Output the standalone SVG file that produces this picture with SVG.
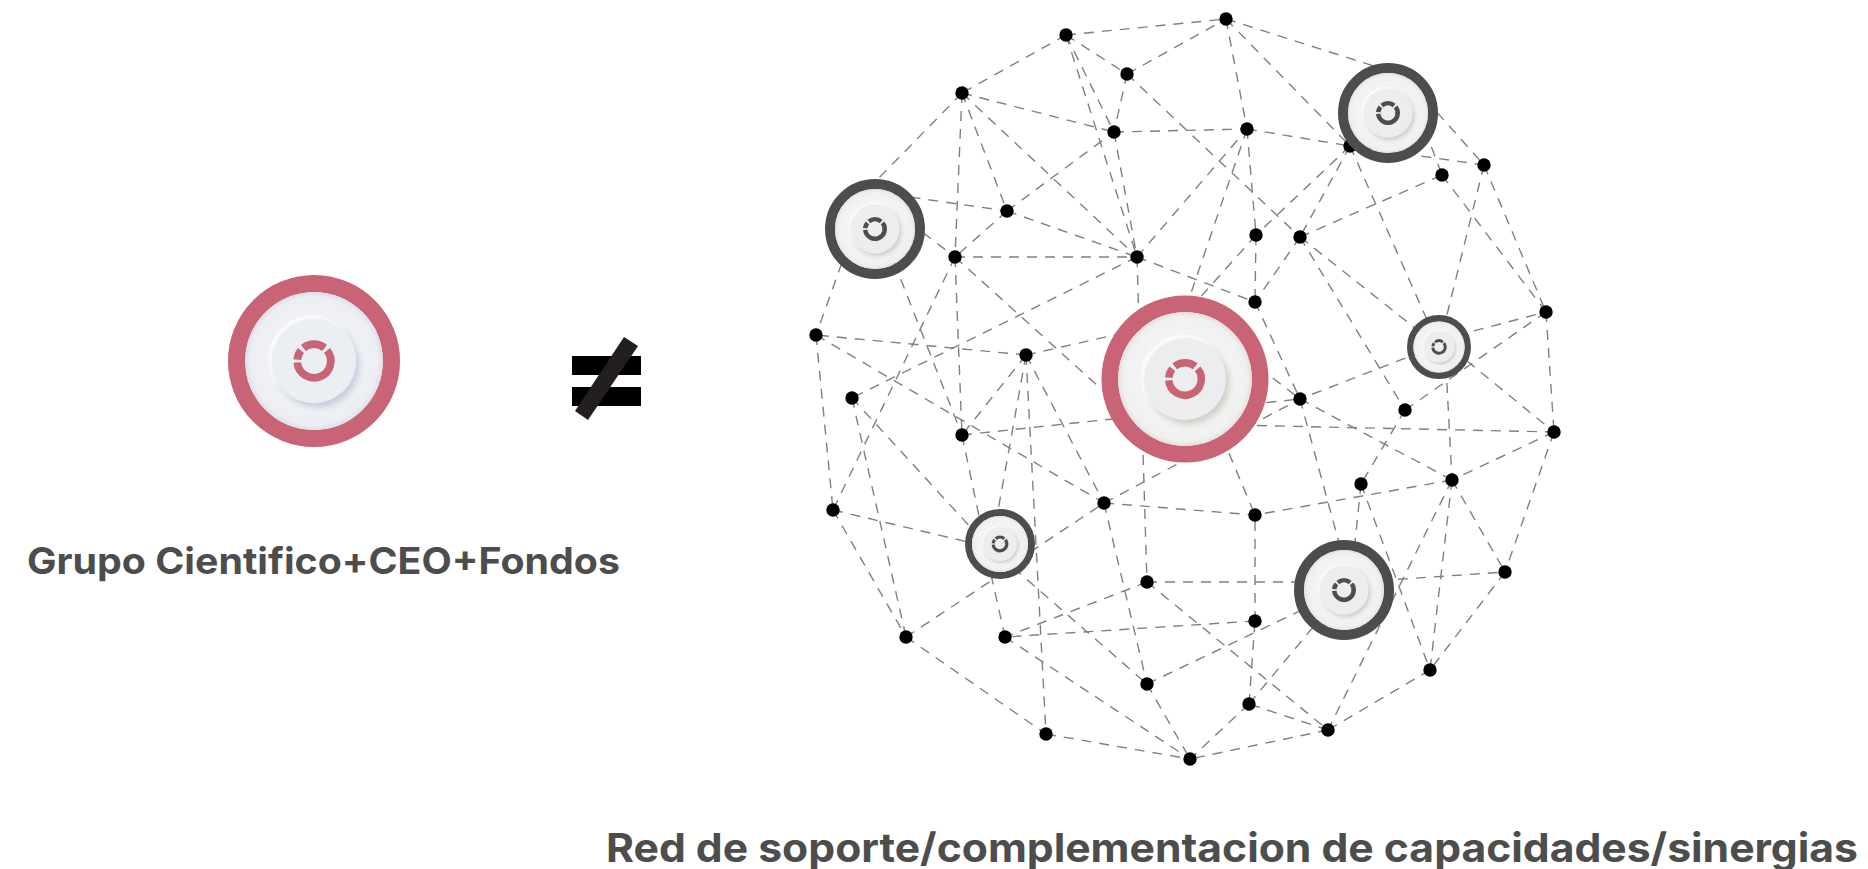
<svg xmlns="http://www.w3.org/2000/svg" width="1868" height="869" viewBox="0 0 1868 869">
<style>
.e line{stroke:#808080;stroke-width:1.4;stroke-dasharray:10 8;fill:none}
.d{fill:#000}
.t{font-family:Inter,"Liberation Sans",sans-serif;font-weight:700;fill:#4d4d4d}
.ring-p{fill:none;stroke:#c96376;stroke-width:20}
.ring-g{fill:none;stroke:#4d4d4d;stroke-width:20}
.ic-p{fill:none;stroke:#c96376;stroke-width:9}
.ic-g{fill:none;stroke:#4d4d4d;stroke-width:9}
</style>
<defs>
<radialGradient id="fw" r="50%"><stop offset="0.72" stop-color="#f2f3f3"/><stop offset="0.93" stop-color="#f0f0f0"/><stop offset="1" stop-color="#e3e1de"/></radialGradient>
<radialGradient id="fb" r="50%"><stop offset="0.72" stop-color="#eff1f5"/><stop offset="0.93" stop-color="#eceef3"/><stop offset="1" stop-color="#dcdfe9"/></radialGradient>
<filter id="sw" x="-40%" y="-40%" width="180%" height="180%"><feDropShadow dx="4" dy="5" stdDeviation="4" flood-color="#c9c2b8" flood-opacity="0.8"/></filter>
<filter id="sb" x="-40%" y="-40%" width="180%" height="180%"><feDropShadow dx="4" dy="5" stdDeviation="4" flood-color="#c3c7da" flood-opacity="0.9"/></filter>
<g id="glyph">
<path d="M-19.43 1.7A19.5 19.5 0 1 0 15.15 -12.27"/>
<path d="M12.27 -15.15A19.5 19.5 0 0 0 -12.27 -15.15"/>
<path d="M-15.15 -12.27A19.5 19.5 0 0 0 -19.43 -1.7"/>
</g>
<g id="pw"><circle r="90" class="ring-p"/><circle r="80" fill="url(#fw)"/><circle cx="-2" cy="-2" r="51" fill="#fbfbfb"/><circle r="49" fill="#ecedee" filter="url(#sw)"/><use href="#glyph" class="ic-p"/></g>
<g id="pb"><circle r="90" class="ring-p"/><circle r="80" fill="url(#fb)"/><circle cx="-2" cy="-2" r="51" fill="#f9fafc"/><circle r="49" fill="#ebeef2" filter="url(#sb)"/><use href="#glyph" class="ic-p"/></g>
<g id="gw"><circle r="90" class="ring-g"/><circle r="80" fill="url(#fw)"/><circle cx="-2" cy="-2" r="51" fill="#fbfbfb"/><circle r="49" fill="#ecedee" filter="url(#sw)"/><use href="#glyph" class="ic-g"/></g>
</defs>
<rect width="1868" height="869" fill="#fff"/>
<g id="connectors" class="e">
<line x1="1066" y1="35" x2="962" y2="93"/>
<line x1="1066" y1="35" x2="1226" y2="19"/>
<line x1="1066" y1="35" x2="1127" y2="74"/>
<line x1="1066" y1="35" x2="1114" y2="132"/>
<line x1="1066" y1="35" x2="1137" y2="257"/>
<line x1="1114" y1="132" x2="1137" y2="257"/>
<line x1="1127" y1="74" x2="1226" y2="19"/>
<line x1="1127" y1="74" x2="1114" y2="132"/>
<line x1="1127" y1="74" x2="1300" y2="237"/>
<line x1="962" y1="93" x2="875" y2="182"/>
<line x1="962" y1="93" x2="1114" y2="132"/>
<line x1="962" y1="93" x2="955" y2="257"/>
<line x1="962" y1="93" x2="1007" y2="211"/>
<line x1="962" y1="93" x2="1137" y2="257"/>
<line x1="875" y1="192" x2="1007" y2="211"/>
<line x1="880" y1="200" x2="955" y2="257"/>
<line x1="854" y1="229" x2="816" y2="335"/>
<line x1="881" y1="229" x2="962" y2="435"/>
<line x1="1007" y1="211" x2="955" y2="257"/>
<line x1="1007" y1="211" x2="1114" y2="132"/>
<line x1="1007" y1="211" x2="1137" y2="257"/>
<line x1="955" y1="257" x2="1137" y2="257"/>
<line x1="955" y1="257" x2="962" y2="435"/>
<line x1="955" y1="257" x2="833" y2="510"/>
<line x1="955" y1="257" x2="1130" y2="415"/>
<line x1="1137" y1="257" x2="852" y2="398"/>
<line x1="1137" y1="257" x2="1247" y2="129"/>
<line x1="1137" y1="257" x2="1255" y2="302"/>
<line x1="1137" y1="257" x2="1147" y2="582"/>
<line x1="1226" y1="19" x2="1247" y2="129"/>
<line x1="1226" y1="19" x2="1380" y2="68"/>
<line x1="1226" y1="19" x2="1350" y2="146"/>
<line x1="1114" y1="132" x2="1247" y2="129"/>
<line x1="1247" y1="129" x2="1350" y2="146"/>
<line x1="1247" y1="129" x2="1256" y2="235"/>
<line x1="1247" y1="129" x2="1175" y2="340"/>
<line x1="1350" y1="146" x2="1256" y2="235"/>
<line x1="1350" y1="146" x2="1300" y2="237"/>
<line x1="1350" y1="146" x2="1439" y2="347"/>
<line x1="1350" y1="146" x2="1484" y2="165"/>
<line x1="1300" y1="237" x2="1405" y2="410"/>
<line x1="1300" y1="237" x2="1439" y2="347"/>
<line x1="1300" y1="237" x2="1442" y2="175"/>
<line x1="1300" y1="237" x2="1255" y2="302"/>
<line x1="1256" y1="235" x2="1255" y2="302"/>
<line x1="1256" y1="235" x2="1180" y2="320"/>
<line x1="1255" y1="302" x2="1300" y2="399"/>
<line x1="1425" y1="99" x2="1484" y2="165"/>
<line x1="1425" y1="130" x2="1442" y2="175"/>
<line x1="1442" y1="175" x2="1546" y2="312"/>
<line x1="1484" y1="165" x2="1546" y2="312"/>
<line x1="1484" y1="165" x2="1439" y2="347"/>
<line x1="1439" y1="340" x2="1546" y2="312"/>
<line x1="1405" y1="410" x2="1546" y2="312"/>
<line x1="1439" y1="338" x2="1554" y2="432"/>
<line x1="1439" y1="345" x2="1300" y2="399"/>
<line x1="1445" y1="347" x2="1452" y2="480"/>
<line x1="1546" y1="312" x2="1554" y2="432"/>
<line x1="1185" y1="424" x2="1554" y2="432"/>
<line x1="1554" y1="432" x2="1452" y2="480"/>
<line x1="1554" y1="432" x2="1505" y2="572"/>
<line x1="1300" y1="399" x2="1452" y2="480"/>
<line x1="1300" y1="399" x2="1345" y2="565"/>
<line x1="962" y1="435" x2="1300" y2="399"/>
<line x1="1230" y1="345" x2="1300" y2="399"/>
<line x1="1104" y1="503" x2="1300" y2="399"/>
<line x1="1405" y1="410" x2="1361" y2="484"/>
<line x1="1452" y1="480" x2="1255" y2="515"/>
<line x1="1361" y1="484" x2="1350" y2="590"/>
<line x1="1361" y1="484" x2="1430" y2="670"/>
<line x1="1452" y1="480" x2="1328" y2="730"/>
<line x1="1452" y1="480" x2="1430" y2="670"/>
<line x1="1452" y1="480" x2="1505" y2="572"/>
<line x1="1344" y1="583" x2="1505" y2="572"/>
<line x1="1505" y1="572" x2="1430" y2="670"/>
<line x1="1430" y1="670" x2="1328" y2="730"/>
<line x1="1328" y1="730" x2="1190" y2="759"/>
<line x1="1328" y1="730" x2="1249" y2="704"/>
<line x1="1249" y1="704" x2="1190" y2="759"/>
<line x1="1249" y1="704" x2="1344" y2="590"/>
<line x1="1249" y1="704" x2="1255" y2="621"/>
<line x1="1255" y1="621" x2="1255" y2="515"/>
<line x1="1255" y1="621" x2="1005" y2="637"/>
<line x1="1147" y1="684" x2="1344" y2="590"/>
<line x1="1147" y1="582" x2="1344" y2="582"/>
<line x1="1147" y1="582" x2="1005" y2="637"/>
<line x1="1147" y1="582" x2="1328" y2="730"/>
<line x1="1026" y1="355" x2="962" y2="435"/>
<line x1="1026" y1="355" x2="992" y2="544"/>
<line x1="1026" y1="355" x2="1046" y2="734"/>
<line x1="1026" y1="355" x2="1104" y2="503"/>
<line x1="1026" y1="355" x2="816" y2="335"/>
<line x1="1026" y1="355" x2="1185" y2="319"/>
<line x1="816" y1="335" x2="1104" y2="503"/>
<line x1="816" y1="335" x2="833" y2="510"/>
<line x1="852" y1="398" x2="985" y2="543"/>
<line x1="852" y1="398" x2="906" y2="637"/>
<line x1="962" y1="435" x2="984" y2="540"/>
<line x1="833" y1="510" x2="985" y2="546"/>
<line x1="833" y1="510" x2="906" y2="637"/>
<line x1="906" y1="637" x2="1000" y2="575"/>
<line x1="906" y1="637" x2="1046" y2="734"/>
<line x1="1005" y1="637" x2="990" y2="570"/>
<line x1="1000" y1="572" x2="1104" y2="503"/>
<line x1="1000" y1="556" x2="1147" y2="684"/>
<line x1="1005" y1="637" x2="1190" y2="759"/>
<line x1="1046" y1="734" x2="1190" y2="759"/>
<line x1="1147" y1="684" x2="1190" y2="759"/>
<line x1="1104" y1="503" x2="1255" y2="515"/>
<line x1="1104" y1="503" x2="1147" y2="684"/>
<line x1="1215" y1="420" x2="1255" y2="515"/>
</g>
<g id="small-nodes">
<circle id="a" class="d" cx="1066" cy="35" r="6.7"/>
<circle id="b" class="d" cx="1127" cy="74" r="6.7"/>
<circle id="c" class="d" cx="962" cy="93" r="6.7"/>
<circle id="d" class="d" cx="1114" cy="132" r="6.7"/>
<circle id="e" class="d" cx="1007" cy="211" r="6.7"/>
<circle id="f" class="d" cx="955" cy="257" r="6.7"/>
<circle id="g" class="d" cx="1137" cy="257" r="6.7"/>
<circle id="h" class="d" cx="1226" cy="19" r="6.7"/>
<circle id="i" class="d" cx="1247" cy="129" r="6.7"/>
<circle id="j" class="d" cx="1350" cy="146" r="6.7"/>
<circle id="k" class="d" cx="1442" cy="175" r="6.7"/>
<circle id="l" class="d" cx="1484" cy="165" r="6.7"/>
<circle id="m" class="d" cx="1256" cy="235" r="6.7"/>
<circle id="n" class="d" cx="1300" cy="237" r="6.7"/>
<circle id="o" class="d" cx="1255" cy="302" r="6.7"/>
<circle id="p" class="d" cx="1300" cy="399" r="6.7"/>
<circle id="q" class="d" cx="1405" cy="410" r="6.7"/>
<circle id="r" class="d" cx="1546" cy="312" r="6.7"/>
<circle id="s" class="d" cx="1554" cy="432" r="6.7"/>
<circle id="t" class="d" cx="1452" cy="480" r="6.7"/>
<circle id="u" class="d" cx="1361" cy="484" r="6.7"/>
<circle id="v" class="d" cx="1104" cy="503" r="6.7"/>
<circle id="w" class="d" cx="1255" cy="515" r="6.7"/>
<circle id="x1" class="d" cx="816" cy="335" r="6.7"/>
<circle id="x2" class="d" cx="852" cy="398" r="6.7"/>
<circle id="x3" class="d" cx="1026" cy="355" r="6.7"/>
<circle id="x4" class="d" cx="962" cy="435" r="6.7"/>
<circle id="x5" class="d" cx="833" cy="510" r="6.7"/>
<circle id="y1" class="d" cx="906" cy="637" r="6.7"/>
<circle id="y2" class="d" cx="1005" cy="637" r="6.7"/>
<circle id="y3" class="d" cx="1147" cy="582" r="6.7"/>
<circle id="y4" class="d" cx="1255" cy="621" r="6.7"/>
<circle id="y5" class="d" cx="1147" cy="684" r="6.7"/>
<circle id="y6" class="d" cx="1046" cy="734" r="6.7"/>
<circle id="y7" class="d" cx="1190" cy="759" r="6.7"/>
<circle id="y8" class="d" cx="1249" cy="704" r="6.7"/>
<circle id="y9" class="d" cx="1328" cy="730" r="6.7"/>
<circle id="y10" class="d" cx="1430" cy="670" r="6.7"/>
<circle id="z" class="d" cx="1505" cy="572" r="6.7"/>
</g>
<g id="hub-left" transform="translate(314 361) scale(0.86)"><use href="#pb"/></g>
<g id="hub-center" transform="translate(1185 379) scale(0.835)"><use href="#pw"/></g>
<g id="hub-top-right" transform="translate(1388 113) scale(0.5)"><use href="#gw"/></g>
<g id="hub-top-left" transform="translate(875 229) scale(0.5)"><use href="#gw"/></g>
<g id="hub-right" transform="translate(1439 347) scale(0.32)"><use href="#gw"/></g>
<g id="hub-low-left" transform="translate(1000 544) scale(0.35)"><use href="#gw"/></g>
<g id="hub-low-right" transform="translate(1344 590) scale(0.5)"><use href="#gw"/></g>
<g id="not-equal">
<rect x="572" y="356" width="69" height="19" fill="#000"/>
<rect x="572" y="387" width="69" height="19" fill="#000"/>
<polygon points="624,337 638,346 588,420 575,411" fill="#231f20"/>
</g>
<text class="t" x="27" y="574" font-size="37" textLength="593" lengthAdjust="spacingAndGlyphs">Grupo Cientifico+CEO+Fondos</text>
<text class="t" x="606" y="862" font-size="40" textLength="1252" lengthAdjust="spacingAndGlyphs">Red de soporte/complementacion de capacidades/sinergias</text>
</svg>
